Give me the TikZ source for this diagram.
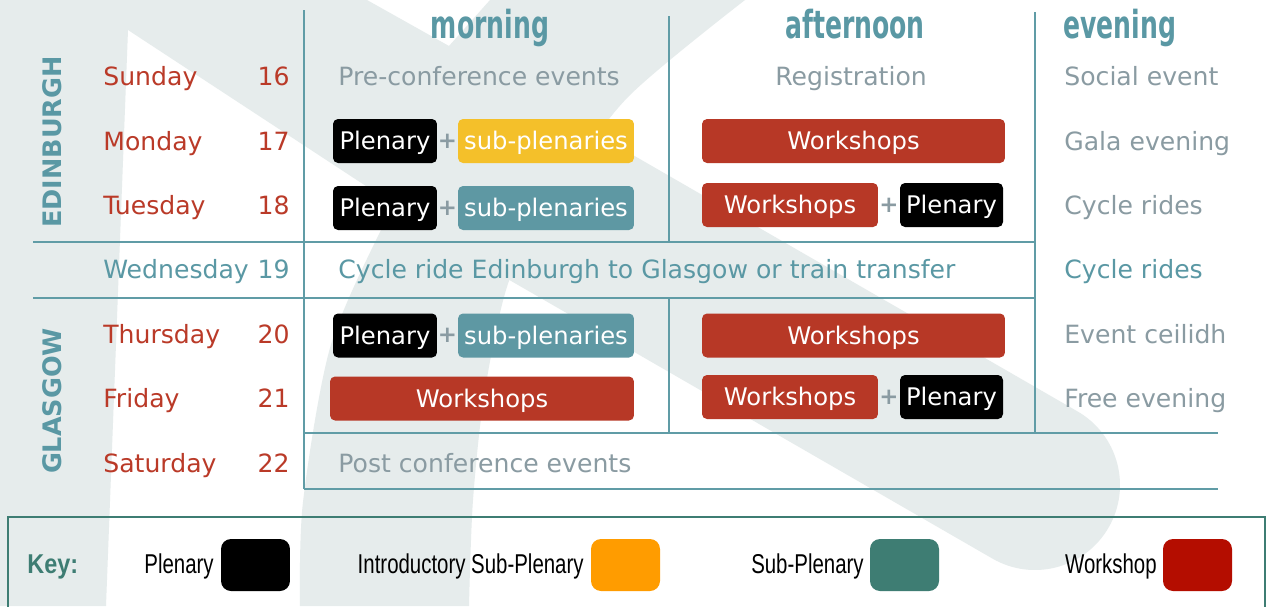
\documentclass[tikz,border=0pt]{standalone}
\usepackage{fontspec}
\setmainfont{DejaVu Sans}
\newfontfamily\keyfont{Liberation Sans}
\usepackage{xcolor}

\definecolor{bggray}{RGB}{230,236,236}
\definecolor{rulecol}{RGB}{96,156,166}
\definecolor{headcol}{RGB}{90,152,164}
\definecolor{dayred}{RGB}{186,58,40}
\definecolor{txtgray}{RGB}{138,155,162}
\definecolor{boxred}{RGB}{183,56,38}
\definecolor{boxyellow}{RGB}{244,192,42}
\definecolor{boxteal}{RGB}{94,152,163}
\definecolor{keygreen}{RGB}{62,125,115}
\definecolor{keyorange}{RGB}{255,156,0}
\definecolor{keyred}{RGB}{180,13,0}

\newcommand\narrow[1]{\scalebox{0.65}[1]{#1}}
\newcommand\keynarrow[1]{\scalebox{0.75}[1]{#1}}

\tikzset{
  tabline/.style={draw=rulecol, line width=0.025cm},
  daylbl/.style={anchor=base west, inner sep=0pt, text=dayred, font=\fontsize{14.3pt}{16pt}\selectfont},
  daynr/.style={anchor=base east, inner sep=0pt, text=dayred, font=\fontsize{14.3pt}{16pt}\selectfont},
  greytxt/.style={anchor=base west, inner sep=0pt, text=txtgray, font=\fontsize{14.3pt}{16pt}\selectfont},
  headlbl/.style={inner sep=0pt, text=headcol, font=\bfseries\fontsize{22pt}{24pt}\selectfont},
  citylbl/.style={rotate=90, text=headcol, font=\bfseries\fontsize{14.5pt}{16pt}\selectfont},
  evbox/.style={rounded corners=0.1cm, minimum height=0.88cm, inner sep=0pt, text=white,
    font=\fontsize{13.8pt}{16pt}\selectfont, text height=10.2pt, text depth=0pt},
  pluslbl/.style={text=txtgray, font=\bfseries\fontsize{13pt}{16pt}\selectfont, inner sep=0pt},
  keylbl/.style={anchor=base east, inner sep=0pt, font=\keyfont\fontsize{15.5pt}{17pt}\selectfont},
  keysq/.style={rounded corners=0.2cm, minimum width=1.38cm, minimum height=1.04cm, inner sep=0pt}
}

\begin{document}
\begin{tikzpicture}[x=0.02cm,y=-0.02cm]
\useasboundingbox (0,0) rectangle (1268,606);
\clip (0,0) rectangle (1268,606);

% background letter
\fill[white] (0,0) rectangle (1268,606);
\fill[bggray] (0,0) -- (367,0) -- (449,46) -- (490,0) -- (745,0)
  -- plot[smooth] coordinates {(745,0) (628,97) (560,190) (510,278) (485,390) (473,500) (469,606)}
  -- (300,606)
  -- plot[smooth] coordinates {(300,606) (303,502) (330,348) (380,232) (398,207)}
  -- (128,30) -- (106,606) -- (0,606) -- cycle;
\draw[bggray, line width=3.4cm, line cap=round] (520,188) -- (1035,485);

% table rules
\draw[tabline] (304,10) -- (304,489);
\draw[tabline] (669,16) -- (669,242);
\draw[tabline] (669,298) -- (669,433);
\draw[tabline] (1035,12) -- (1035,433);
\draw[tabline] (33,242) -- (1035,242);
\draw[tabline] (33,298) -- (1035,298);
\draw[tabline] (304,433) -- (1218,433);
\draw[tabline] (304,489) -- (1218,489);

% headers
\node[headlbl, anchor=base] (morn) at (490,38) {\narrow{morning}};
\node[headlbl, anchor=base] (aft) at (855,38) {\narrow{afternoon}};
\node[headlbl, anchor=base west] (eve) at (1063,38) {\narrow{evening}};

\node[citylbl] (edi) at (52,142) {EDINBURGH};
\node[citylbl] (gla) at (52,401) {GLASGOW};

% days
\node[daylbl] (sun) at (103,85) {Sunday};
\node[daylbl] (mon) at (103,150) {Monday};
\node[daylbl] (tue) at (103,214) {Tuesday};
\node[daylbl, text=headcol] (wed) at (103,278) {Wednesday};
\node[daylbl] (thu) at (103,343) {Thursday};
\node[daylbl] (fri) at (103,407) {Friday};
\node[daylbl] (sat) at (103,472) {Saturday};
\node[daynr] (n16) at (290,85) {16};
\node[daynr] (n17) at (290,150) {17};
\node[daynr] (n18) at (290,214) {18};
\node[daynr, text=headcol] (n19) at (290,278) {19};
\node[daynr] (n20) at (290,343) {20};
\node[daynr] (n21) at (290,407) {21};
\node[daynr] (n22) at (290,472) {22};

% morning
\node[greytxt] (pre) at (338,85) {Pre-conference events};
\node[evbox, fill=black, minimum width=2.08cm] (mplen1) at (385,141) {Plenary};
\node[pluslbl] (mplus1) at (447.5,141) {+};
\node[evbox, fill=boxyellow, minimum width=3.52cm] (msub1) at (546,141) {sub-plenaries};
\node[evbox, fill=black, minimum width=2.08cm] (mplen2) at (385,208) {Plenary};
\node[pluslbl] (mplus2) at (447.5,208) {+};
\node[evbox, fill=boxteal, minimum width=3.52cm] (msub2) at (546,208) {sub-plenaries};
\node[greytxt, text=headcol] (ride) at (338,278) {Cycle ride Edinburgh to Glasgow or train transfer};
\node[evbox, fill=black, minimum width=2.08cm] (mplen3) at (385,335.5) {Plenary};
\node[pluslbl] (mplus3) at (447.5,335.5) {+};
\node[evbox, fill=boxteal, minimum width=3.52cm] (msub3) at (546,335.5) {sub-plenaries};
\node[evbox, fill=boxred, minimum width=6.08cm] (mws) at (482,398.5) {Workshops};
\node[greytxt] (post) at (338,472) {Post conference events};

% afternoon
\node[greytxt, anchor=base] (reg) at (851,85) {Registration};
\node[evbox, fill=boxred, minimum width=6.06cm] (aws1) at (853.5,141) {Workshops};
\node[evbox, fill=boxred, minimum width=3.52cm] (aws2) at (790,205) {Workshops};
\node[pluslbl] (aplus1) at (889,205) {+};
\node[evbox, fill=black, minimum width=2.06cm] (aplen1) at (951.5,205) {Plenary};
\node[evbox, fill=boxred, minimum width=6.06cm] (aws3) at (853.5,335.5) {Workshops};
\node[evbox, fill=boxred, minimum width=3.52cm] (aws4) at (790,397) {Workshops};
\node[pluslbl] (aplus2) at (889,397) {+};
\node[evbox, fill=black, minimum width=2.06cm] (aplen2) at (951.5,397) {Plenary};

% evening
\node[greytxt] (soc) at (1064,85) {Social event};
\node[greytxt] (gala) at (1064,150) {Gala evening};
\node[greytxt] (cyc1) at (1064,214) {Cycle rides};
\node[greytxt, text=headcol] (cyc2) at (1064,278) {Cycle rides};
\node[greytxt] (ceil) at (1064,343) {Event ceilidh};
\node[greytxt] (free) at (1064,407) {Free evening};

% key
\draw[keygreen, line width=0.03cm] (8,517) rectangle (1265,640);
\node[anchor=base west, inner sep=0pt, text=keygreen, font=\keyfont\bfseries\fontsize{15.5pt}{17pt}\selectfont] (key) at (27,573) {\scalebox{0.86}[1]{Key:}};
\node[keysq, fill=black] (kplen) at (255.5,565) {};
\node[keysq, fill=keyorange] (kintro) at (625.5,565) {};
\node[keysq, fill=keygreen] (ksub) at (904.5,565) {};
\node[keysq, fill=keyred] (kws) at (1197.5,565) {};
\node[keylbl] (lplen) at (214,573) {\keynarrow{Plenary}};
\node[keylbl] (lintro) at (584,573) {\keynarrow{Introductory Sub-Plenary}};
\node[keylbl] (lsub) at (864,573) {\keynarrow{Sub-Plenary}};
\node[keylbl] (lws) at (1157,573) {\keynarrow{Workshop}};

\end{tikzpicture}
\end{document}
